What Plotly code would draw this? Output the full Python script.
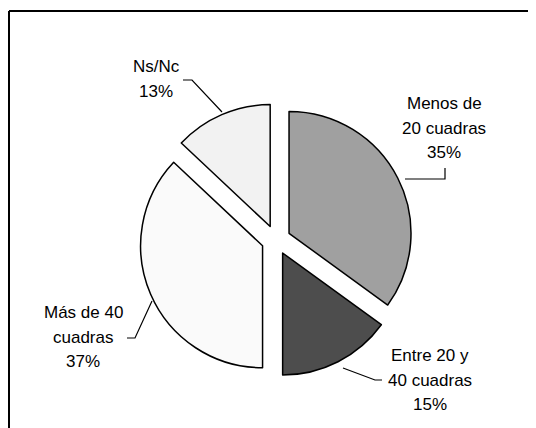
import plotly.graph_objects as go

# the page body keeps an 8px margin, so the figure sits at (8, 8)
OFF = 8
W, H = 528, 420

labels = ["Menos de<br>20 cuadras", "Entre 20 y<br>40 cuadras", "Más de 40<br>cuadras", "Ns/Nc"]
values = [35, 15, 37, 13]
colors = ["#A0A0A0", "#4D4D4D", "#FAFAFA", "#F2F2F2"]

# label block centres and leader lines, in window pixels
label_pos = [(444, 128), (430, 380), (83, 337), (156, 79)]
leaders = [
    [(405, 179), (445, 179), (445, 168)],
    [(343, 368), (375, 380), (382, 380)],
    [(127, 338), (135, 338), (152, 301)],
    [(183, 80), (192, 80), (222, 112)],
]
LINE_GAP = 24.5


def px(x, y):
    return (x - OFF) / W, 1 - (y - OFF) / H


cx, cy = px(276, 240)
half = 136.6
fig = go.Figure(go.Pie(
    labels=labels, values=values, sort=False,
    direction="clockwise", rotation=0,
    marker=dict(colors=colors, line=dict(color="black", width=1.5)),
    pull=[0.12] * len(values),
    textinfo="none", hoverinfo="label+percent",
    domain=dict(x=[cx - half / W, cx + half / W], y=[cy - half / H, cy + half / H]),
    showlegend=False,
))

for lab, v, (x, y) in zip(labels, values, label_pos):
    lines = lab.split("<br>") + [f"{v}%"]
    top = y - LINE_GAP * (len(lines) - 1) / 2
    for i, line in enumerate(lines):
        ax, ay = px(x, top + i * LINE_GAP)
        fig.add_annotation(
            x=ax, y=ay, xref="paper", yref="paper",
            text=line, showarrow=False,
            xanchor="center", yanchor="middle",
            font=dict(family="Liberation Sans, Arial", size=17, color="black"),
        )

for pts in leaders:
    path = ""
    for i, (x, y) in enumerate(pts):
        a, b = px(x, y)
        path += ("M" if i == 0 else "L") + f"{a},{b} "
    fig.add_shape(type="path", path=path.strip(), xref="paper", yref="paper",
                  line=dict(color="black", width=1.2))

# chart frame (only top and left edges fall inside the picture)
fx, fy = px(9, 11)
fig.add_shape(type="line", xref="paper", yref="paper", x0=fx, x1=1.0,
              y0=fy, y1=fy, line=dict(color="black", width=2))
fig.add_shape(type="line", xref="paper", yref="paper", x0=fx, x1=fx,
              y0=fy, y1=0.0, line=dict(color="black", width=2))

fig.update_layout(
    width=W, height=H,
    margin=dict(l=0, r=0, t=0, b=0),
    paper_bgcolor="white", plot_bgcolor="white",
)

fig.write_html("out.html")
